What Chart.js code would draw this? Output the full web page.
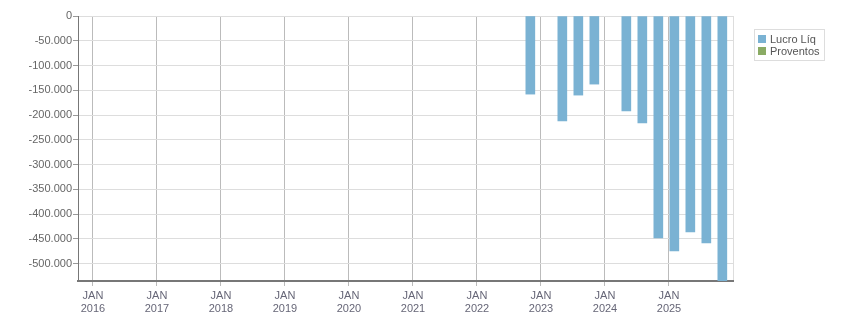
<!DOCTYPE html>
<html>
<head>
<meta charset="utf-8">
<script src="https://cdn.jsdelivr.net/npm/chart.js@4/dist/chart.umd.min.js"></script>
<style>
  body { margin:0; background:#fff; }
  #wrap { position:relative; width:851px; height:313px; }
  #legend { position:absolute; left:754px; top:29px; width:67px; padding:3px 0 3px 2px; border:1px solid #ddd;
            font:11px "Liberation Sans", sans-serif; color:#555; }
  #legend div { display:flex; align-items:center; height:12px; }
  #legend span.sw { display:inline-block; width:8px; height:8px; margin:0 4px 0 1px; }
</style>
</head>
<body>
<div id="wrap">
  <canvas id="chart"></canvas>
  <div id="legend"></div>
</div>
<script>
// ─── DATA ─────────────────────────────────────────────────────────────────────
const periods   = ['2022-11','2023-05','2023-08','2023-11','2024-05','2024-08','2024-11','2025-02','2025-05','2025-08','2025-11'];
const lucroLiq  = [-157700, -211700, -159700, -137500, -191500, -216000, -448000, -474500, -436000, -458000, -545000];
const proventos = [];
const yearTicks = [2016, 2017, 2018, 2019, 2020, 2021, 2022, 2023, 2024, 2025];

const BASE_YEAR = 2016;
const monthIdx = p => { const [y,m] = p.split('-'); return (parseInt(y)-BASE_YEAR)*12 + parseInt(m) - 1; };
const fmt = v => (v < 0 ? '-' : '') + String(Math.abs(v)).replace(/\B(?=(\d{3})+(?!\d))/g, '.');

const COLORS = { lucro:'#7ab2d3', prov:'#8aab64' };

// ─── CHART ────────────────────────────────────────────────────────────────────
const ctx = document.getElementById('chart').getContext('2d');
const chart = new Chart(ctx, {
  type: 'bar',
  data: {
    datasets: [
      { label:'Lucro Líq', data: periods.map((p,i) => ({ x: monthIdx(p), y: lucroLiq[i] })), backgroundColor: COLORS.lucro, barThickness: 9 },
      { label:'Proventos', data: proventos, backgroundColor: COLORS.prov, barThickness: 9 }
    ]
  },
  options: {
    responsive: true, maintainAspectRatio: false, animation: false,
    grouped: false,
    layout: { padding: { top:16, right:118, left:0, bottom:0 } },
    plugins: { legend:{ display:false }, tooltip:{ enabled:false } },
    scales: {
      x: {
        type: 'linear', offset: false, min: -2.81, max: 120,
        afterBuildTicks: s => { s.ticks = yearTicks.map(y => ({ value:(y-BASE_YEAR)*12 })).concat([{ value:120 }]); },
        afterFit: s => { s.height = 32; },
        grid: {
          offset: false,
          color: c => c.tick && c.tick.value === 120 ? '#dddddd' : '#bbbbbb',
          tickColor: c => c.tick && c.tick.value === 120 ? 'rgba(0,0,0,0)' : '#bbbbbb',
          tickLength: 5
        },
        border: { color:'#777', width:2 },
        ticks: {
          autoSkip: false, maxRotation: 0, padding: 3, color: '#667',
          font: { family:'"Liberation Sans", sans-serif', size:11 },
          callback: v => v === 120 ? '' : ['JAN', String(BASE_YEAR + v/12)]
        }
      },
      y: {
        min: -535000, max: 0,
        afterBuildTicks: s => { const t = []; for (let v = 0; v >= -500000; v -= 50000) t.push({ value:v }); s.ticks = t; },
        afterFit: s => { s.width = 78; },
        grid: { color:'#dddddd', tickColor:'#999', tickLength:5 },
        border: { color:'#777', width:1 },
        ticks: {
          padding: 1, color: '#666',
          font: { family:'"Liberation Sans", sans-serif', size:11 },
          callback: v => fmt(v)
        }
      }
    }
  }
});

// ─── LEGEND ───────────────────────────────────────────────────────────────────
document.getElementById('legend').innerHTML = chart.data.datasets
  .map(d => `<div><span class="sw" style="background:${d.backgroundColor}"></span>${d.label}</div>`).join('');
</script>
</body>
</html>
